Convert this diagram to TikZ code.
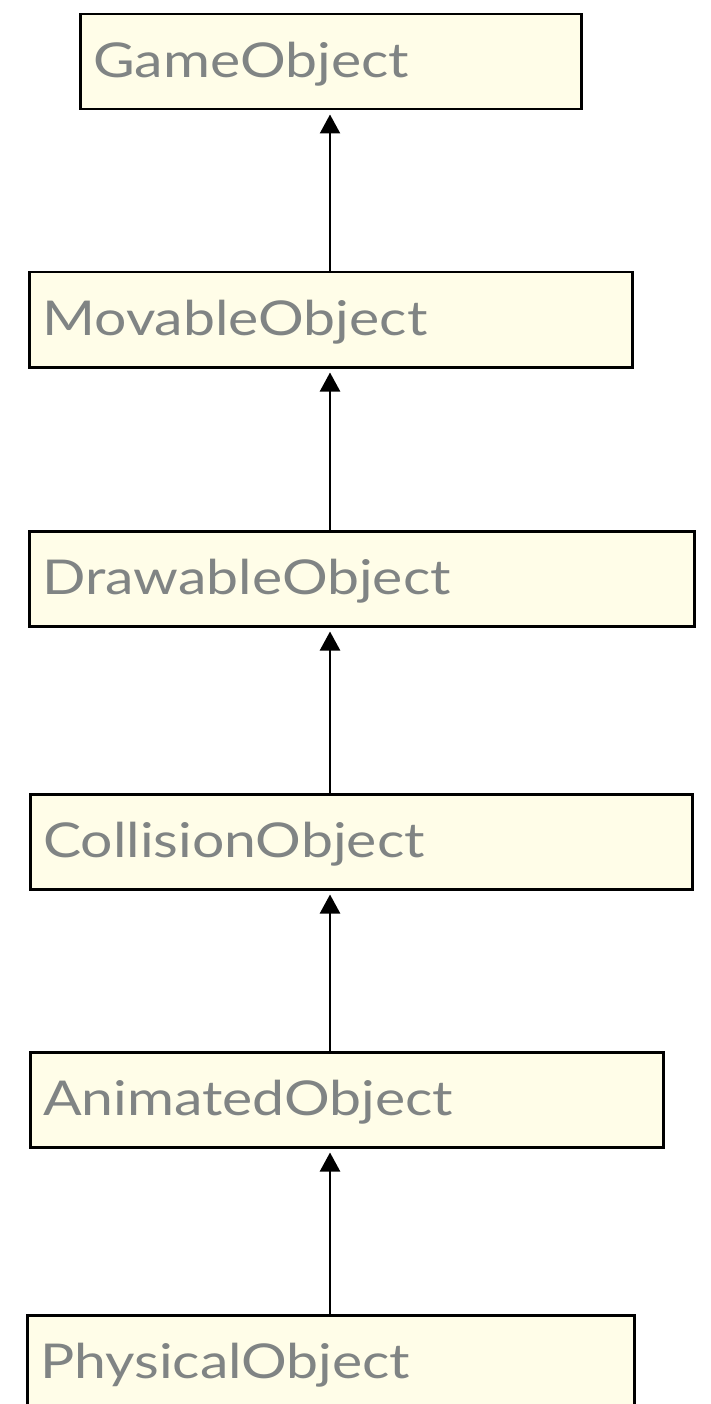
\documentclass[tikz,border=0pt]{standalone}
\usepackage{fontspec}
\setmainfont{Lato}[FakeStretch=1.19]
\usetikzlibrary{arrows.meta}
\definecolor{boxfill}{RGB}{255,253,232}
\definecolor{labelgray}{RGB}{128,132,132}
\tikzset{
  classbox/.style={draw=black, line width=2.5pt, fill=boxfill, rectangle,
    anchor=north west, inner xsep=13pt, inner ysep=0pt,
    text height=63pt, text depth=32pt, align=left,
    font=\fontsize{48}{52}\selectfont, text=labelgray},
  inherit/.style={line width=2.4pt, -{Triangle[length=19pt,width=20pt]}, shorten >=4pt}
}
\begin{document}
\begin{tikzpicture}[x=1pt,y=-1pt]
  \useasboundingbox (0,0) rectangle (711,1404);
  \node[classbox, text width=475pt] (game) at (79,13) {GameObject};
  \node[classbox, text width=577pt] (movable) at (28,271) {MovableObject};
  \node[classbox, text width=639pt] (drawable) at (28,530) {DrawableObject};
  \node[classbox, text width=636pt] (collision) at (29,793) {CollisionObject};
  \node[classbox, text width=607pt] (animated) at (29,1051) {AnimatedObject};
  \node[classbox, text width=581pt] (physical) at (26,1314) {PhysicalObject};
  \draw[inherit] (movable.north -| 330,0) -- (game.south -| 330,0);
  \draw[inherit] (drawable.north -| 330,0) -- (movable.south -| 330,0);
  \draw[inherit] (collision.north -| 330,0) -- (drawable.south -| 330,0);
  \draw[inherit] (animated.north -| 330,0) -- (collision.south -| 330,0);
  \draw[inherit] (physical.north -| 330,0) -- (animated.south -| 330,0);
\end{tikzpicture}
\end{document}
